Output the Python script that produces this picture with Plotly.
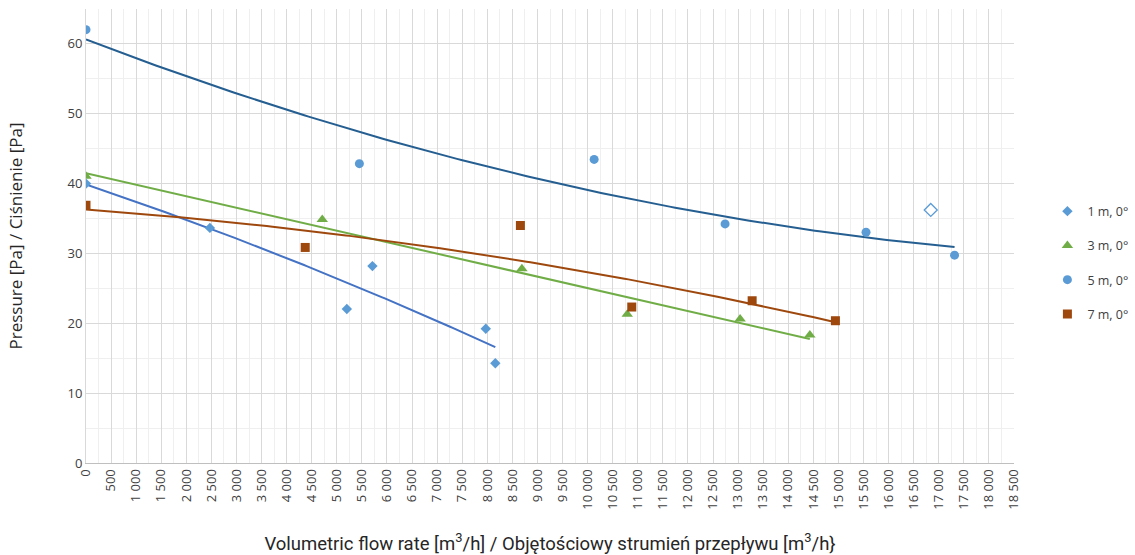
import numpy as np
import plotly.graph_objects as go

# Measured operating points: flow rate [m3/h] vs pressure [Pa]
flow_1m = [0, 2470, 5200, 5710, 7970, 8160]
pres_1m = [40.0, 33.66, 22.04, 28.19, 19.23, 14.29]

flow_3m = [0, 4710, 8690, 10790, 13040, 14430]
pres_3m = [41.05, 34.86, 27.8, 21.3, 20.6, 18.33]

flow_5m = [0, 5450, 10130, 12740, 15550, 17315]
pres_5m = [62.04, 42.86, 43.47, 34.23, 33.04, 29.76]

flow_7m = [0, 4370, 8660, 10880, 13280, 14940]
pres_7m = [36.9, 30.86, 34.0, 22.33, 23.23, 20.37]

# single additional reading shown with an open marker
flow_extra = [16840]
pres_extra = [36.23]

series_names = ["1 m, 0°", "3 m, 0°", "5 m, 0°", "7 m, 0°"]
x_ticks = list(range(0, 18501, 500))
y_ticks = list(range(0, 61, 10))

# trendline polynomial degree per series
trend_degree = [2, 1, 2, 2]

marker_colors = ["#5b9bd5", "#70ad47", "#5b9bd5", "#9e480e"]
trend_colors = ["#4472c4", "#70ad47", "#255e91", "#9e480e"]
symbols = ["diamond", "triangle-up", "circle", "square"]
sizes = [8, 10, 9, 9]

data = [(flow_1m, pres_1m), (flow_3m, pres_3m), (flow_5m, pres_5m), (flow_7m, pres_7m)]

fig = go.Figure()

# trendlines (least-squares polynomial over each series' flow range)
for (fx, py), deg, col in zip(data, trend_degree, trend_colors):
    coef = np.polyfit(fx, py, deg)
    xs = np.linspace(min(fx), max(fx), 200)
    fig.add_trace(go.Scatter(x=xs, y=np.polyval(coef, xs), mode="lines",
                             line=dict(color=col, width=2), showlegend=False,
                             hoverinfo="skip"))

for i, ((fx, py), name) in enumerate(zip(data, series_names)):
    fig.add_trace(go.Scatter(x=fx, y=py, mode="markers", name=name,
                             legendgroup=name,
                             marker=dict(symbol=symbols[i], color=marker_colors[i],
                                         size=sizes[i], line=dict(width=0))))

fig.add_trace(go.Scatter(x=flow_extra, y=pres_extra, mode="markers", showlegend=False,
                         marker=dict(symbol="diamond-open", color="#5b9bd5", size=10,
                                     line=dict(width=1.3, color="#5b9bd5"))))

tick_text = [f"{v:,}".replace(",", " ") for v in x_ticks]

fig.update_layout(
    width=1135, height=555,
    margin=dict(l=86, r=121, t=9, b=92, autoexpand=False),
    paper_bgcolor="white", plot_bgcolor="white",
    font=dict(family="Open Sans", color="#404040"),
    legend=dict(x=1.036, xanchor="left", y=0.587, yanchor="top",
                traceorder="grouped", tracegroupgap=15,
                font=dict(size=12.5, color="#404040", family="Open Sans"),
                itemwidth=30),
    xaxis=dict(range=[0, 18500], tickvals=x_ticks, ticktext=tick_text,
               tickangle=-90, tickfont=dict(size=13, color="#404040"),
               showgrid=True, gridcolor="#d9d9d9", gridwidth=1,
               minor=dict(dtick=250, showgrid=True, gridcolor="#efefef", gridwidth=1),
               showline=True, linecolor="#bfbfbf", linewidth=1,
               zeroline=False, ticks="", automargin=False,
               title=dict(text="Volumetric flow rate [m<sup>3</sup>/h] / Objętościowy strumień przepływu [m<sup>3</sup>/h}",
                          font=dict(family="Roboto", size=18.5, color="#262626"),
                          standoff=30)),
    yaxis=dict(range=[0, 65], tickvals=y_ticks,
               tickfont=dict(size=13, color="#404040"),
               showgrid=True, gridcolor="#d9d9d9", gridwidth=1,
               minor=dict(dtick=5, showgrid=True, gridcolor="#efefef", gridwidth=1),
               showline=True, linecolor="#d9d9d9", linewidth=1,
               zeroline=False, ticks="", automargin=False,
               title=dict(text="Pressure [Pa] / Ciśnienie [Pa]",
                          font=dict(family="Open Sans", size=17, color="#262626"),
                          standoff=40)),
)

fig.write_html("out.html")
